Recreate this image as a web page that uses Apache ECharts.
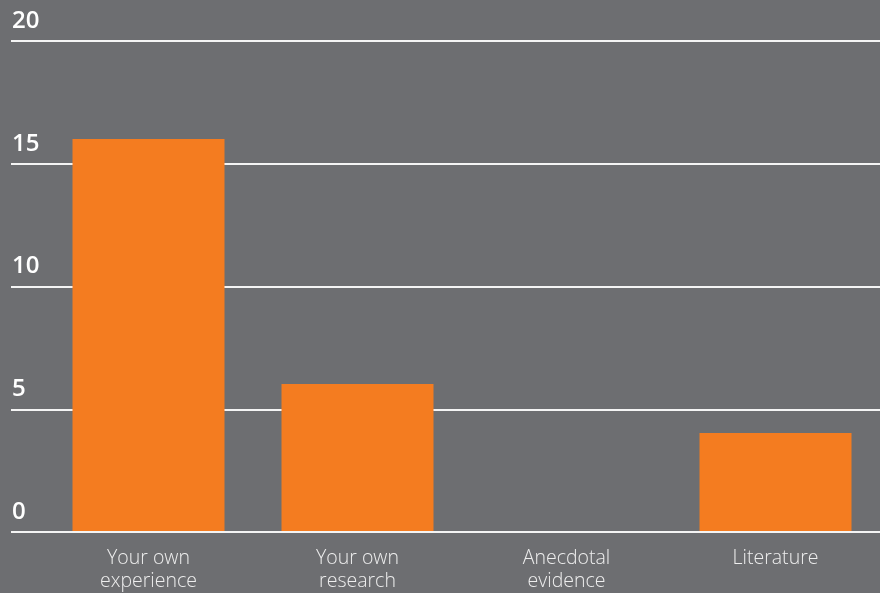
<!DOCTYPE html>
<html>
<head>
<meta charset="utf-8">
<script src="https://cdn.jsdelivr.net/npm/echarts@6/dist/echarts.min.js"></script>
<style>
html,body{margin:0;padding:0;background:#6d6e71;}
#chart{width:880px;height:593px;}
</style>
</head>
<body>
<div id="chart"></div>
<script>
const categories = ['Your own\nexperience', 'Your own\nresearch', 'Anecdotal\nevidence', 'Literature'];
const values = [16, 6, 0, 4];
const yTicks = [0, 5, 10, 15, 20];

const chart = echarts.init(document.getElementById('chart'));
const yMin = yTicks[0], yMax = yTicks[yTicks.length - 1];
chart.setOption({
  backgroundColor: '#6d6e71',
  animation: false,
  grid: [
    { left: 11, right: 0, top: 41, bottom: 61 },
    { left: 44, right: 0, top: 41, bottom: 61 }
  ],
  xAxis: [
    { gridIndex: 0, type: 'category', data: categories, show: false },
    {
      gridIndex: 1, type: 'category', data: categories,
      axisLine: { show: false }, axisTick: { show: false },
      axisLabel: {
        color: '#eeeeee', fontFamily: 'Open Sans', fontWeight: 300,
        fontSize: 19.5, lineHeight: 23, margin: 16
      }
    }
  ],
  yAxis: [
    {
      gridIndex: 0, type: 'value', min: yMin, max: yMax, interval: 5,
      axisLine: { show: false }, axisTick: { show: false },
      splitLine: { show: true, lineStyle: { color: '#f4f4f4', width: 2 } },
      axisLabel: {
        inside: true, margin: 1, color: '#ffffff', fontFamily: 'Open Sans',
        fontWeight: 600, fontSize: 24, verticalAlign: 'bottom', padding: [0, 0, 8, 0]
      }
    },
    {
      gridIndex: 1, type: 'value', min: yMin, max: yMax, interval: 5, show: false,
      splitLine: { show: false }
    }
  ],
  series: [{
    type: 'bar', xAxisIndex: 1, yAxisIndex: 1,
    data: values, barWidth: 152,
    itemStyle: { color: '#f47c20' }
  }]
});
</script>
</body>
</html>
